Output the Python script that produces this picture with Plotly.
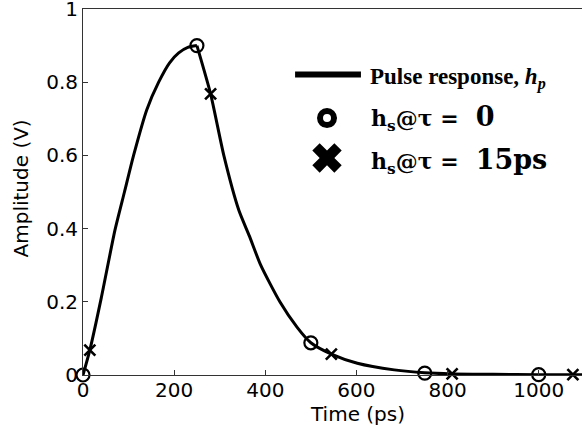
import plotly.graph_objects as go

# ---- data ----
pulse_t = [0, 15, 40, 70, 91, 111, 140, 166, 190, 210, 230, 250,
           280, 309, 342, 365, 390, 432, 470, 500, 545, 602, 683, 750,
           810, 900, 1000, 1075, 1100]
pulse_v = [0, 0.068, 0.21, 0.395, 0.5, 0.6, 0.725, 0.8, 0.853, 0.88, 0.895, 0.9,
           0.768, 0.6, 0.45, 0.38, 0.3, 0.2, 0.13, 0.088, 0.057, 0.032, 0.014, 0.006,
           0.003, 0.002, 0.001, 0.001, 0.001]
s0_t = [0, 250, 500, 750, 1000]
s0_v = [0, 0.9, 0.088, 0.005, 0.001]
s15_t = [15, 280, 545, 810, 1075]
s15_v = [0.068, 0.768, 0.057, 0.003, 0.001]

x_ticks = [0, 200, 400, 600, 800, 1000]
y_ticks = [0, 0.2, 0.4, 0.6, 0.8, 1]
y_tick_labels = ["0", "0.2", "0.4", "0.6", "0.8", "1"]

legend_pulse = "<b>Pulse response, <i>h<sub>p</sub></i></b>"
legend_s0 = ("<b>h<sub>s</sub>@τ = <span style='font-size:27px'> 0</span></b>")
legend_s15 = ("<b>h<sub>s</sub>@τ = <span style='font-size:27px'> 15ps</span></b>")

peak = pulse_v.index(max(pulse_v))

fig = go.Figure()
# pulse response drawn in two smooth pieces so that the peak keeps its cusp
fig.add_trace(go.Scatter(x=pulse_t[:peak + 1], y=pulse_v[:peak + 1], mode="lines",
                         line=dict(color="black", width=3, shape="spline", smoothing=0.6),
                         showlegend=False, hoverinfo="skip"))
fig.add_trace(go.Scatter(x=pulse_t[peak:], y=pulse_v[peak:], mode="lines",
                         line=dict(color="black", width=3, shape="spline", smoothing=0.6),
                         showlegend=False, hoverinfo="skip"))
fig.add_trace(go.Scatter(x=s0_t, y=s0_v, mode="markers",
                         marker=dict(symbol="circle-open", size=13, color="black",
                                     line=dict(width=2.2, color="black")),
                         showlegend=False, cliponaxis=False))
fig.add_trace(go.Scatter(x=s15_t, y=s15_v, mode="markers",
                         marker=dict(symbol="x-thin-open", size=11, color="black",
                                     line=dict(width=2.6, color="black")),
                         showlegend=False, cliponaxis=False))

# hand-built legend (markers on an invisible overlay axis in 0..1 units)
fig.add_trace(go.Scatter(x=[0.489], y=[0.702], xaxis="x2", yaxis="y2", mode="markers",
                         marker=dict(symbol="circle-open", size=14, color="black",
                                     line=dict(width=6, color="black")),
                         showlegend=False, hoverinfo="skip", cliponaxis=False))
fig.add_trace(go.Scatter(x=[0.489], y=[0.593], xaxis="x2", yaxis="y2", mode="markers",
                         marker=dict(symbol="x", size=26, color="black",
                                     line=dict(width=0)),
                         showlegend=False, hoverinfo="skip", cliponaxis=False))

fig.add_shape(type="line", xref="paper", yref="paper", x0=0.425, x1=0.557,
              y0=0.821, y1=0.821, line=dict(color="black", width=6))

fig.add_annotation(x=0.571, y=0.810, xref="paper", yref="paper", text=legend_pulse,
                   showarrow=False, xanchor="left", yanchor="middle",
                   font=dict(family="Liberation Serif", size=23, color="black"))
fig.add_annotation(x=0.573, y=0.703, xref="paper", yref="paper", text=legend_s0,
                   showarrow=False, xanchor="left", yanchor="middle",
                   font=dict(family="DejaVu Serif", size=22, color="black"))
fig.add_annotation(x=0.573, y=0.584, xref="paper", yref="paper", text=legend_s15,
                   showarrow=False, xanchor="left", yanchor="middle",
                   font=dict(family="DejaVu Serif", size=22, color="black"))

# axis titles
fig.add_annotation(x=0.55, y=-0.106, xref="paper", yref="paper", text="Time (ps)",
                   showarrow=False, xanchor="center", yanchor="middle",
                   font=dict(family="DejaVu Sans", size=20, color="black"))
fig.add_annotation(x=-0.124, y=0.51, xref="paper", yref="paper", text="Amplitude (V)",
                   showarrow=False, xanchor="center", yanchor="middle", textangle=-90,
                   font=dict(family="DejaVu Sans", size=20, color="black"))

axis_common = dict(showline=True, linecolor="#333333", linewidth=1, ticks="inside",
                   ticklen=5, tickcolor="#333333", showgrid=False, zeroline=False,
                   ticklabeloverflow="allow", automargin=False,
                   tickfont=dict(family="DejaVu Sans", size=20, color="black"))

fig.update_layout(
    width=582, height=436,
    margin=dict(l=83, r=0, t=9, b=61),
    paper_bgcolor="white", plot_bgcolor="white",
    xaxis=dict(range=[0, 1095], tickvals=x_ticks, mirror=True, ticklabelstandoff=-3,
               **axis_common),
    yaxis=dict(range=[0, 1], tickvals=y_ticks, ticktext=y_tick_labels, **axis_common),
    xaxis2=dict(overlaying="x", range=[0, 1], visible=False),
    yaxis2=dict(overlaying="y", range=[0, 1], visible=False),
)

# remove the browser's default 8px body margin so the figure sits at the page corner
fig.write_html("out.html", config={"displayModeBar": False},
               post_script="document.body.style.margin='0';")
